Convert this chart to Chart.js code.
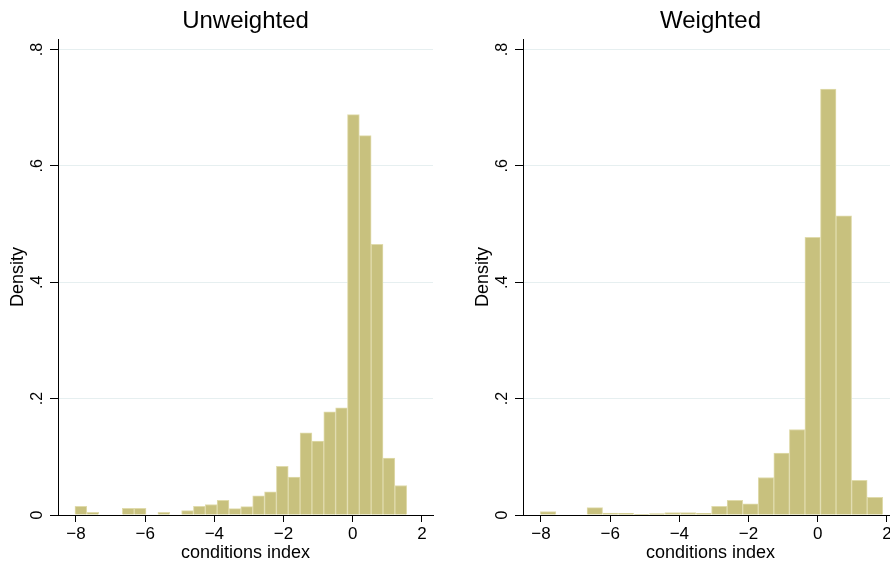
<!DOCTYPE html>
<html>
<head>
<meta charset="utf-8">
<script src="https://cdn.jsdelivr.net/npm/chart.js@4.4.1/dist/chart.umd.min.js"></script>
<style>
    html, body { margin: 0; padding: 0; background: #fff; overflow: hidden; }
    #wrap { position: relative; width: 890px; height: 567px; overflow: hidden; }
    .panel { position: absolute; top: 0; width: 465px; height: 567px; }
</style>
</head>
<body>
<div id="wrap">
    <div class="panel" style="left:0"><canvas id="unweighted-chart"></canvas></div>
    <div class="panel" style="left:465px"><canvas id="weighted-chart"></canvas></div>
</div>
<script>
// Tick labels
const xTicks = [-8, -6, -4, -2, 0, 2];
const yTicks = [0, 0.2, 0.4, 0.6, 0.8];

// Unweighted histogram: bin centres and densities
const unweightedBins = [
    -7.859, -7.516, -7.174, -6.831, -6.489, -6.146, -5.804, -5.461, -5.119, -4.776,
    -4.434, -4.091, -3.749, -3.406, -3.064, -2.721, -2.379, -2.036, -1.694, -1.351,
    -1.009, -0.666, -0.324, 0.019, 0.361, 0.704, 1.046, 1.389
];
const unweightedDensity = [
    0.015, 0.0046, 0, 0, 0.0115, 0.0115, 0, 0.0046, 0, 0.0075,
    0.015, 0.018, 0.025, 0.011, 0.0144, 0.033, 0.040, 0.0836, 0.065, 0.141,
    0.127, 0.1775, 0.184, 0.688, 0.652, 0.465, 0.098, 0.0507
];

// Weighted histogram: bin centres and densities
const weightedBins = [
    -7.794, -7.344, -6.894, -6.444, -5.994, -5.544, -5.095, -4.645, -4.195, -3.745,
    -3.295, -2.845, -2.395, -1.945, -1.495, -1.045, -0.595, -0.146, 0.304, 0.754,
    1.204, 1.654
];
const weightedDensity = [
    0.0058, 0, 0, 0.0127, 0.0035, 0.003, 0.0012, 0.0023, 0.004, 0.004,
    0.003, 0.015, 0.025, 0.019, 0.0645, 0.1066, 0.147, 0.477, 0.732, 0.514,
    0.0597, 0.0305
];

const FONT = 'Liberation Sans, Arial, Helvetica, sans-serif';
const BAR_FILL = 'rgb(200, 193, 126)';
const BAR_EDGE = 'rgb(224, 219, 172)';
const GRID = '#e6eff0';

function formatX(v) {
    return v < 0 ? '\u2212' + Math.abs(v) : String(v);
}

function formatY(v) {
    if (v === 0) return '0';
    return String(Math.round(v * 10) / 10).replace(/^0/, '');
}

function makeHistogram(canvasId, title, bins, density) {
    const ctx = document.getElementById(canvasId);
    new Chart(ctx, {
        type: 'bar',
        data: {
            datasets: [{
                data: bins.map((b, i) => ({ x: b, y: density[i] })),
                backgroundColor: BAR_FILL,
                borderColor: BAR_EDGE,
                borderWidth: 1,
                barPercentage: 1,
                categoryPercentage: 1
            }]
        },
        options: {
            responsive: true,
            maintainAspectRatio: false,
            animation: false,
            layout: { padding: { left: 0, right: 32, top: 0, bottom: 0 } },
            plugins: {
                legend: { display: false },
                tooltip: { enabled: false },
                title: {
                    display: true,
                    text: title,
                    fullSize: false,
                    color: '#000',
                    font: { family: FONT, size: 24, weight: 'normal' },
                    padding: { top: 7, bottom: 3.2 }
                }
            },
            scales: {
                x: {
                    type: 'linear',
                    min: -8.52,
                    max: 2.32,
                    offset: false,
                    afterBuildTicks: scale => { scale.ticks = xTicks.map(v => ({ value: v })); },
                    afterFit: scale => { scale.height = 52; },
                    grid: {
                        display: true,
                        drawOnChartArea: false,
                        offset: false,
                        tickColor: '#000',
                        tickLength: 7
                    },
                    border: { display: true, color: '#000', width: 1 },
                    ticks: {
                        color: '#000',
                        font: { family: FONT, size: 17 },
                        padding: 2,
                        maxRotation: 0,
                        autoSkip: false,
                        callback: v => formatX(v)
                    },
                    title: {
                        display: true,
                        text: 'conditions index',
                        color: '#000',
                        font: { family: FONT, size: 18 },
                        padding: { top: 0, bottom: 3 }
                    }
                },
                y: {
                    min: 0,
                    max: 0.818,
                    afterBuildTicks: scale => { scale.ticks = yTicks.map(v => ({ value: v })); },
                    afterFit: scale => { scale.width = 58; },
                    grid: {
                        color: GRID,
                        lineWidth: 1,
                        tickColor: '#000',
                        tickLength: 8
                    },
                    border: { display: true, color: '#000', width: 1 },
                    ticks: {
                        color: '#000',
                        font: { family: FONT, size: 16 },
                        minRotation: 90,
                        maxRotation: 90,
                        crossAlign: 'center',
                        padding: 6,
                        autoSkip: false,
                        callback: v => formatY(v)
                    },
                    title: {
                        display: true,
                        text: 'Density',
                        color: '#000',
                        font: { family: FONT, size: 18 },
                        padding: { top: 7, bottom: 0 }
                    }
                }
            }
        }
    });
}

makeHistogram('unweighted-chart', 'Unweighted', unweightedBins, unweightedDensity);
makeHistogram('weighted-chart', 'Weighted', weightedBins, weightedDensity);
</script>
</body>
</html>
